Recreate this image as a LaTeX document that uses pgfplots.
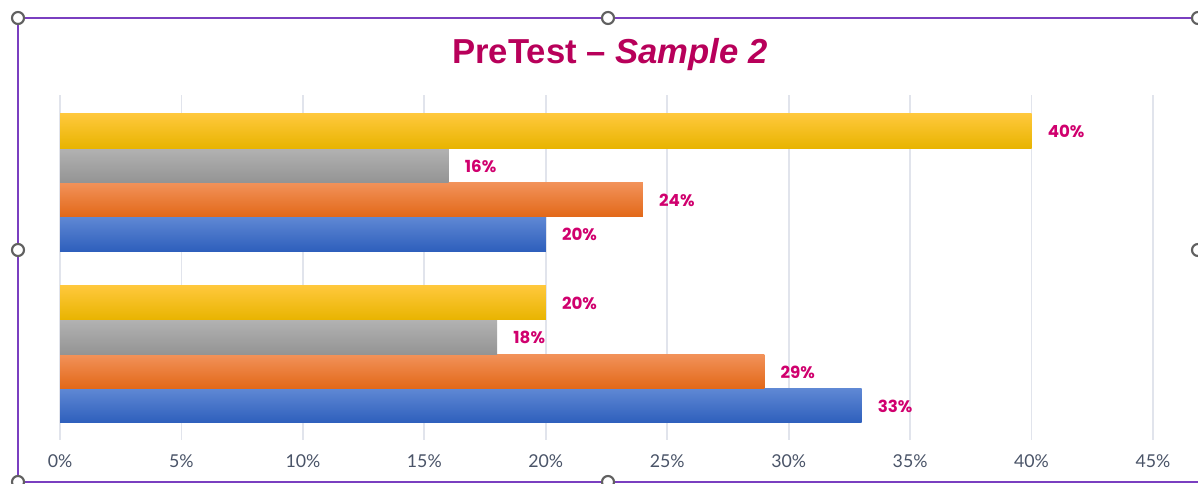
\documentclass[border=0pt]{standalone}
\usepackage{pgfplots}
\pgfplotsset{compat=1.18}
\usepackage{fontspec}
\setmainfont{Liberation Sans}
\newfontfamily\lato{Lato}
\newfontfamily\pop{Poppins}
\definecolor{titlecol}{HTML}{B8005A}
\definecolor{labcol}{HTML}{D0006E}
\definecolor{tickcol}{HTML}{4A5468}
\definecolor{gridcol}{HTML}{E1E4EC}
\definecolor{framecol}{HTML}{7A3FC0}
\definecolor{handlecol}{HTML}{606060}
\pgfplotsset{
  bluebar/.style={draw=none, top color={rgb,255:red,95;green,136;blue,212}, bottom color={rgb,255:red,46;green,95;blue,188}},
  orangebar/.style={draw=none, top color={rgb,255:red,242;green,146;blue,90}, middle color={rgb,255:red,244;green,124;blue,42}, bottom color={rgb,255:red,226;green,104;blue,24}},
  graybar/.style={draw=none, top color={rgb,255:red,178;green,178;blue,178}, bottom color={rgb,255:red,148;green,148;blue,148}},
  yellowbar/.style={draw=none, top color={rgb,255:red,255;green,200;blue,60}, middle color={rgb,255:red,255;green,193;blue,0}, bottom color={rgb,255:red,232;green,180;blue,0}},
}
\begin{document}
\begin{tikzpicture}[x=0.75pt,y=0.75pt]
\useasboundingbox (0,0) rectangle (1198,484);
\fill[white] (0,0) rectangle (1198,484);
\begin{axis}[
  at={(45pt,33pt)}, anchor=south west,
  scale only axis, width=819.75pt, height=258.75pt,
  xmin=0, xmax=45, ymin=-0.5, ymax=1.51,
  xtick={0,5,...,45},
  xticklabel={\pgfmathprintnumber{\tick}\%},
  /pgf/number format/assume math mode=true,
  ytick=\empty,
  axis line style={draw=none},
  major tick length=0pt,
  xmajorgrids, grid style={color=gridcol, line width=1.3pt},
  xticklabel style={font=\lato\fontsize{13.3}{13.3}\selectfont, text=tickcol, anchor=north, inner sep=0pt, yshift=-11pt},
  xbar, bar width=0.2,
  nodes near coords={\pgfmathprintnumber[assume math mode=true]{\pgfplotspointmeta}\%},
  every node near coord/.append style={font=\pop\bfseries\fontsize{12.5}{12.5}\selectfont, text=labcol, inner sep=0pt, anchor=west, xshift=12pt, yshift=-0.5pt},
  clip=false,
]
% bottom group (y=0)
\addplot[bluebar, bar shift=-0.3] coordinates {(33,0)};
\addplot[orangebar, bar shift=-0.1] coordinates {(29,0)};
\addplot[graybar, bar shift=0.1] coordinates {(18,0)};
\addplot[yellowbar, bar shift=0.3] coordinates {(20,0)};
% top group (y=1)
\addplot[bluebar, bar shift=-0.3] coordinates {(20,1)};
\addplot[orangebar, bar shift=-0.1] coordinates {(24,1)};
\addplot[graybar, bar shift=0.1] coordinates {(16,1)};
\addplot[yellowbar, bar shift=0.3] coordinates {(40,1)};
\end{axis}
\node[font=\bfseries\fontsize{26}{26}\selectfont, text=titlecol] at (610,429) {PreTest -- \textit{Sample 2}};
\draw[framecol, line width=1.5pt] (1200,466) -- (18,466) -- (18,2) -- (1200,2);
\foreach \p in {(18,466),(608,466),(1198,466),(18,234),(1198,234),(18,2),(608,2)}
  \draw[handlecol, line width=1.6pt, fill=white] \p circle (6);
\end{tikzpicture}
\end{document}
